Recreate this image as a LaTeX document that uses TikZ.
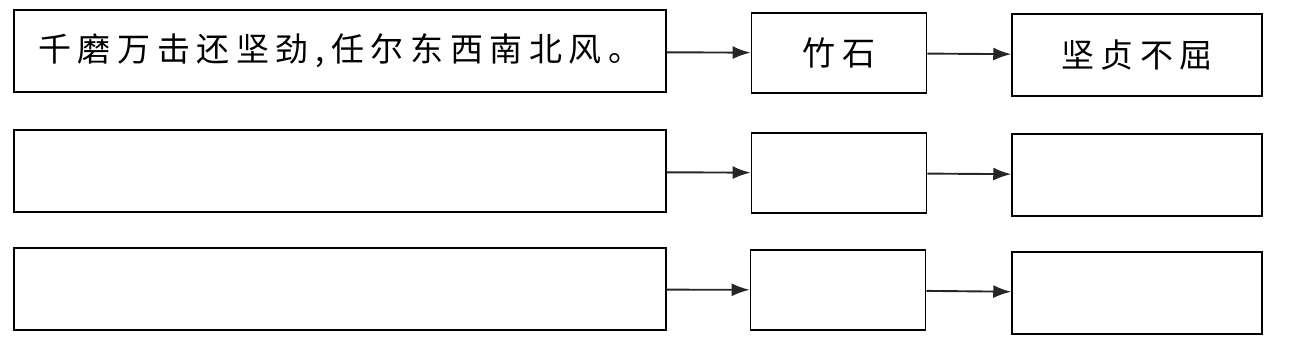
\documentclass[tikz,border=0pt]{standalone}
\usepackage{fontspec}
\newfontfamily\cjk[LetterSpace=20]{Noto Sans CJK SC}
\usetikzlibrary{arrows.meta}

\begin{document}
\begin{tikzpicture}[
  x=1pt, y=-1pt,
  every node/.style={font=\cjk\fontsize{33pt}{36pt}\selectfont},
  poembox/.style={draw, line width=1.6pt, inner sep=0pt,
                  minimum width=652pt, minimum height=82pt},
  thingbox/.style={draw, line width=1.8pt, inner sep=0pt,
                   minimum width=175pt, minimum height=80pt},
  spiritbox/.style={draw, line width=1.5pt, inner sep=0pt,
                    minimum width=250pt, minimum height=82pt},
  arr/.style={-{Latex[length=18pt, width=13pt]}, line width=1.9pt, draw=black!85},
]
\useasboundingbox (0,0) rectangle (1290,339);

% Row 1: example
\node[poembox] (poem1) at (340,51) {千磨万击还坚劲,任尔东西南北风。};
\node[thingbox] (thing1) at (839,53) {竹石};
\node[spiritbox] (spirit1) at (1137,55) {坚贞不屈};

% Row 2: blank
\node[poembox] (poem2) at (340,171) {};
\node[thingbox] (thing2) at (839,173) {};
\node[spiritbox] (spirit2) at (1137,175) {};

% Row 3: blank
\node[poembox] (poem3) at (340,289) {};
\node[thingbox] (thing3) at (838,290) {};
\node[spiritbox] (spirit3) at (1137,293) {};

% Arrows
\draw[arr] (poem1) -- (thing1);
\draw[arr] (thing1) -- (spirit1);
\draw[arr] (poem2) -- (thing2);
\draw[arr] (thing2) -- (spirit2);
\draw[arr] (poem3) -- (thing3);
\draw[arr] (thing3) -- (spirit3);

\end{tikzpicture}
\end{document}
